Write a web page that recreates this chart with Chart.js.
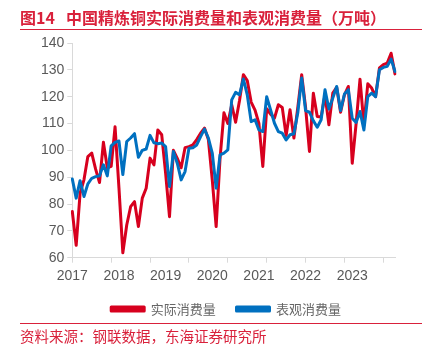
<!DOCTYPE html>
<html>
<head>
<meta charset="utf-8">
<script src="https://cdn.jsdelivr.net/npm/chart.js@4"></script>
<style>
  html, body { margin: 0; padding: 0; background: #fff; }
  #wrap { position: relative; width: 440px; height: 350px; overflow: hidden; }
  #title { position: absolute; left: 20px; top: 8px; font: bold 16px/18px "Noto Sans CJK SC", sans-serif; color: #d9213b; white-space: nowrap; }
  #title .num { margin-right: 11px; }
  #line1 { position: absolute; left: 20px; top: 28.5px; width: 402px; height: 1.5px; background: #d9213b; }
  #line2 { position: absolute; left: 20px; top: 323px; width: 402px; height: 1px; background: #d9213b; }
  #source { position: absolute; left: 20px; top: 326px; font: 14.5px/19px "Noto Sans CJK SC", sans-serif; color: #d9213b; white-space: nowrap; }
  canvas { position: absolute; left: 0; top: 0; }
</style>
</head>
<body>
<div id="wrap">
  <canvas id="chart" width="440" height="350"></canvas>
  <div id="title"><span class="num">图14</span>中国精炼铜实际消费量和表观消费量（万吨）</div>
  <div id="line1"></div>
  <div id="line2"></div>
  <div id="source">资料来源：钢联数据，东海证券研究所</div>
</div>
<script>
// monthly, 2017-01 .. 2023-12
var years = ["2017", "2018", "2019", "2020", "2021", "2022", "2023"];

var actual = [
  77.2, 64.6, 84, 89, 97.7, 99, 93, 88, 103, 93.5, 94, 108.8,
  86, 61.8, 72.2, 79, 80.9, 71.6, 82.2, 85.9, 97.1, 94.6, 107.6, 105.8,
  91.5, 75.3, 100, 97, 93.5, 101, 101.4, 102, 104, 106.4, 108.3, 104,
  89, 71.6, 97, 114, 110, 117, 110.5, 118.5, 128.2, 126, 118, 115,
  110, 94, 115.5, 113.5, 112, 117, 116, 105.5, 115.1, 104.6, 116, 128.2,
  116, 99.6, 121.3, 112.6, 112.4, 120.7, 109.5, 121.3, 123.5, 114.2, 120.7, 123.8,
  95.2, 110, 126.5, 109.5, 124.8, 123.2, 120, 130.7, 131.9, 132.5, 136.2, 128.5
];

var apparent = [
  89.3, 82.2, 88.7, 82.8, 87.5, 89.6, 90.2, 90.5, 94.6, 90.5, 101.7, 103,
  103.5, 91, 103.3, 104.6, 106.2, 97.4, 100, 100.5, 105.6, 102.8, 102.5, 102.7,
  101.4, 86.5, 99.6, 95.2, 89, 92.1, 100.8, 101, 102, 105.1, 107.9, 104.6,
  99, 85.9, 98.3, 99, 100.2, 118.8, 121.6, 120.7, 126.6, 120.7, 110.7, 111.4,
  107.6, 107, 120, 115.1, 110.1, 107, 106.4, 103.9, 105.8, 106.2, 114, 127,
  114.8, 114.2, 111, 108.6, 111.4, 122.6, 115.4, 119.5, 123.8, 114.8, 121, 122.6,
  112, 110.4, 114.5, 107.6, 120, 121.3, 120, 130, 130.9, 131.3, 134, 129.4
];

var yMin = 60, yMax = 140, yStep = 10;

var months = [];
years.forEach(function(y) {
  for (var m = 1; m <= 12; m++) months.push(y + "-" + (m < 10 ? "0" + m : m));
});

var axisGrey = "#d9d9d9";
var textGrey = "#595959";

Chart.defaults.font.family = "'Liberation Sans', Arial, sans-serif";
Chart.defaults.color = textGrey;

var ctx = document.getElementById("chart");
var chart = new Chart(ctx, {
  type: "line",
  data: {
    labels: months,
    datasets: [
      {
        label: "实际消费量",
        data: actual,
        borderColor: "#d7001e",
        backgroundColor: "#d7001e",
        borderWidth: 3,
        pointRadius: 0,
        tension: 0,
        borderJoinStyle: "round",
        borderCapStyle: "round",
        order: 1
      },
      {
        label: "表观消费量",
        data: apparent,
        borderColor: "#0070c0",
        backgroundColor: "#0070c0",
        borderWidth: 3,
        pointRadius: 0,
        tension: 0,
        borderJoinStyle: "round",
        borderCapStyle: "round",
        order: 0
      }
    ]
  },
  options: {
    responsive: false,
    animation: false,
    layout: { padding: { left: 12.2, right: 0, top: 43, bottom: 24.5 } },
    plugins: {
      tooltip: { enabled: false },
      legend: {
        position: "bottom",
        labels: {
          boxWidth: 33,
          boxHeight: 4,
          padding: 20.8,
          color: "#666",
          font: { family: "'Noto Sans CJK SC', sans-serif", size: 13 },
          sort: function(a, b) { return a.datasetIndex - b.datasetIndex; }
        }
      }
    },
    scales: {
      x: {
        type: "category",
        offset: false,
        afterFit: function(s) { s.height = 24; },
        border: { color: axisGrey, width: 1 },
        grid: {
          drawOnChartArea: false,
          drawTicks: true,
          tickLength: 5,
          offset: false,
          color: function(c) { return c.index % 10 === 0 ? axisGrey : "rgba(0,0,0,0)"; }
        },
        ticks: {
          autoSkip: false,
          maxRotation: 0,
          padding: 5,
          font: { size: 14 },
          callback: function(v, i) { return i % 12 === 0 ? years[i / 12] : ""; }
        }
      },
      y: {
        min: yMin,
        max: yMax,
        afterFit: function(s) { s.width = 60.1; },
        border: { color: axisGrey, width: 1 },
        grid: { drawOnChartArea: false, drawTicks: true, tickLength: 5, color: axisGrey },
        ticks: { stepSize: yStep, padding: 3, font: { size: 14 } }
      },
      // empty right-hand strip, keeps the plot narrower than the legend row
      yRight: {
        type: "linear",
        position: "right",
        afterFit: function(s) { s.width = 45; },
        border: { display: false },
        grid: { display: false },
        ticks: { display: false }
      }
    }
  }
});
</script>
</body>
</html>
